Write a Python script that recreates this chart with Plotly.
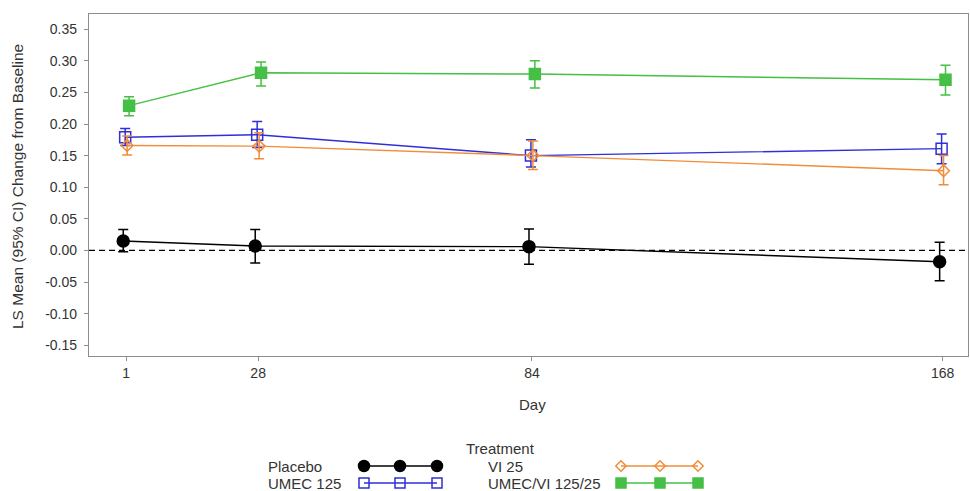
import plotly.graph_objects as go

# Study days and treatment arms
days = [1, 28, 84, 168]
arms = ["Placebo", "UMEC 125", "VI 25", "UMEC/VI 125/25"]

# LS mean change from baseline with 95% CI bounds
placebo_mean = [0.015, 0.007, 0.006, -0.018]
placebo_lo = [-0.002, -0.020, -0.022, -0.048]
placebo_hi = [0.033, 0.033, 0.034, 0.013]

umec_mean = [0.179, 0.183, 0.150, 0.161]
umec_lo = [0.166, 0.163, 0.132, 0.137]
umec_hi = [0.193, 0.204, 0.175, 0.184]

vi_mean = [0.166, 0.165, 0.150, 0.126]
vi_lo = [0.151, 0.145, 0.128, 0.104]
vi_hi = [0.181, 0.186, 0.173, 0.150]

combo_mean = [0.229, 0.281, 0.279, 0.270]
combo_lo = [0.213, 0.260, 0.257, 0.246]
combo_hi = [0.243, 0.298, 0.300, 0.293]

y_ticks = [-0.15, -0.10, -0.05, 0.00, 0.05, 0.10, 0.15, 0.20, 0.25, 0.30, 0.35]

FONT = "Liberation Sans, Arial, sans-serif"
TXT = "#333333"

styles = {
    "Placebo": dict(color="#000000", symbol="circle", size=12, dodge=-0.6),
    "UMEC 125": dict(color="#2f2fd8", symbol="square-open", size=11, dodge=-0.2),
    "VI 25": dict(color="#f28c38", symbol="diamond-open", size=9, dodge=0.2),
    "UMEC/VI 125/25": dict(color="#45bf45", symbol="square", size=11, dodge=0.6),
}
series = {
    "Placebo": (placebo_mean, placebo_lo, placebo_hi),
    "UMEC 125": (umec_mean, umec_lo, umec_hi),
    "VI 25": (vi_mean, vi_lo, vi_hi),
    "UMEC/VI 125/25": (combo_mean, combo_lo, combo_hi),
}

fig = go.Figure()

for name in arms:
    mean, lo, hi = series[name]
    st = styles[name]
    fig.add_trace(go.Scatter(
        x=[d + st["dodge"] for d in days],
        y=mean,
        mode="lines+markers",
        name=name,
        showlegend=False,
        line=dict(color=st["color"], width=1.4),
        marker=dict(symbol=st["symbol"], size=st["size"], color=st["color"],
                    line=dict(color=st["color"], width=1.5)),
        error_y=dict(type="data", symmetric=False,
                     array=[h - m for h, m in zip(hi, mean)],
                     arrayminus=[m - l for m, l in zip(mean, lo)],
                     color=st["color"], thickness=1.5, width=5),
        xaxis="x", yaxis="y",
    ))

W, H = 970, 491
m_top, m_bot, m_left, m_right = 14, 0, 89, 2
plot_w = W - m_left - m_right
plot_h = H - m_top - m_bot
y_dom0 = (H - 356) / plot_h

# Custom legend drawn on an overlay axis measured in pixels
leg_rows = {"Placebo": (0, 0), "VI 25": (1, 0), "UMEC 125": (0, 1), "UMEC/VI 125/25": (1, 1)}
col_text_x = [267, 487]
col_sample_x = [[364, 400, 437], [621, 660, 698]]
row_y = [466, 483]
annotations = []
for name in arms:
    c, r = leg_rows[name]
    st = styles[name]
    fig.add_trace(go.Scatter(
        x=col_sample_x[c], y=[row_y[r]] * 3,
        mode="lines+markers", showlegend=False, hoverinfo="skip",
        line=dict(color=st["color"], width=1.4),
        marker=dict(symbol=st["symbol"], size=st["size"] - 1, color=st["color"],
                    line=dict(color=st["color"], width=1.5)),
        xaxis="x2", yaxis="y2",
    ))
    annotations.append(dict(x=col_text_x[c], y=row_y[r], xref="x2", yref="y2",
                            text=name, showarrow=False, xanchor="left", yanchor="middle",
                            borderpad=0,
                            font=dict(family=FONT, size=15, color=TXT)))

annotations.append(dict(x=500, y=448, xref="x2", yref="y2", text="Treatment",
                        showarrow=False, xanchor="center", yanchor="middle", borderpad=0,
                        font=dict(family=FONT, size=15, color=TXT)))
annotations.append(dict(x=532, y=404, xref="x2", yref="y2", text="Day",
                        showarrow=False, xanchor="center", yanchor="middle",
                        font=dict(family=FONT, size=15, color=TXT)))
annotations.append(dict(x=(17 - m_left) / plot_w, y=1 - (187 - m_top) / plot_h,
                        xref="paper", yref="paper",
                        text="LS Mean (95% CI) Change from Baseline",
                        showarrow=False, textangle=-90, xanchor="center", yanchor="middle",
                        font=dict(family=FONT, size=15.5, color=TXT)))

fig.update_layout(
    width=W, height=H,
    margin=dict(l=m_left, r=m_right, t=m_top, b=m_bot),
    paper_bgcolor="white", plot_bgcolor="rgba(0,0,0,0)",
    font=dict(family=FONT, size=14, color=TXT),
    annotations=annotations,
    xaxis=dict(range=[-6.6, 173.2], tickvals=days, ticktext=[str(d) for d in days],
               showgrid=False, zeroline=False, showline=True, mirror=True,
               linecolor="#8c8c8c", linewidth=1.3, ticks="outside", ticklen=4,
               tickcolor="#8c8c8c", anchor="y", domain=[0, 1],
               tickfont=dict(family=FONT, size=14, color=TXT)),
    yaxis=dict(range=[-0.167, 0.374], tickvals=y_ticks,
               ticktext=[f"{v:.2f}" for v in y_ticks],
               showgrid=False, zeroline=False, showline=True, mirror=True,
               linecolor="#8c8c8c", linewidth=1.3, ticks="outside", ticklen=4,
               tickcolor="#8c8c8c", anchor="x", domain=[y_dom0, 1],
               ticklabelstandoff=4,
               tickfont=dict(family=FONT, size=14, color=TXT)),
    xaxis2=dict(range=[m_left, W - m_right], domain=[0, 1], visible=False,
                anchor="y2", fixedrange=True),
    yaxis2=dict(range=[H - m_bot, m_top], domain=[0, 1], visible=False,
                anchor="x2", fixedrange=True),
    shapes=[dict(type="line", xref="x domain", yref="y", x0=0, x1=1, y0=0, y1=0,
                 line=dict(color="#000000", width=1.3, dash="6px,4px"), layer="below")],
)

fig.write_html("out.html")
